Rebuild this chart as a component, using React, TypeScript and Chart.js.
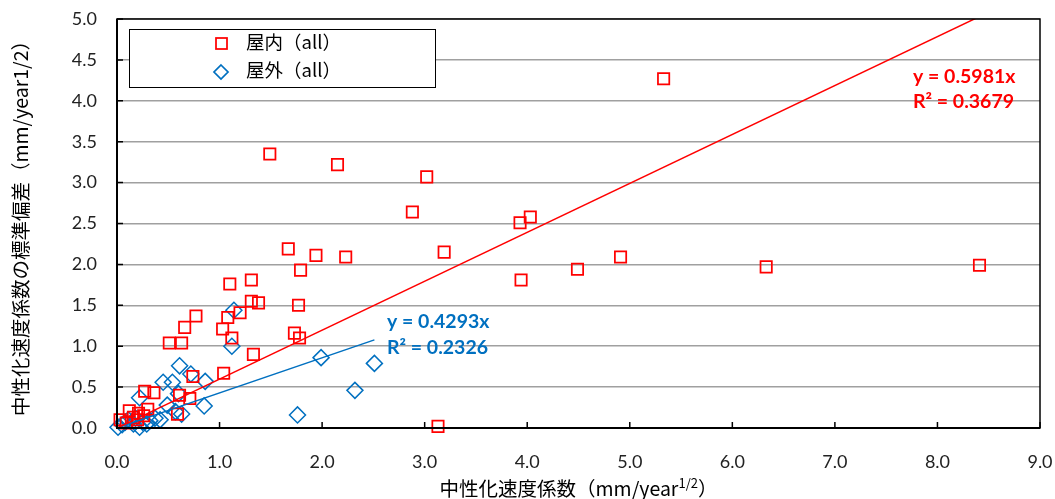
import React, { useEffect, useRef } from 'react';
import { Chart, registerables } from 'chart.js';

Chart.register(...registerables);

// ---- data ----
const indoorLabel = '屋内（all）';
const outdoorLabel = '屋外（all）';

const indoorX = [5.33, 1.49, 2.15, 3.02, 2.88, 4.03, 3.93, 1.67, 3.19, 1.94, 2.23, 4.91, 1.79, 4.49, 6.33, 8.41, 3.94, 1.10, 1.31, 1.38, 1.31, 1.77, 0.77, 1.08, 1.20, 1.12, 1.03, 1.73, 1.78, 0.66, 0.51, 0.63, 1.33, 1.04, 0.74, 0.71, 0.61, 0.27, 0.36, 3.13, 0.12, 0.21, 0.30, 0.03, 0.16, 0.59, 0.09, 0.20, 0.26];
const indoorY = [4.27, 3.35, 3.22, 3.07, 2.64, 2.58, 2.51, 2.19, 2.15, 2.11, 2.09, 2.09, 1.93, 1.94, 1.97, 1.99, 1.81, 1.76, 1.81, 1.53, 1.55, 1.50, 1.37, 1.35, 1.41, 1.10, 1.21, 1.16, 1.10, 1.23, 1.04, 1.04, 0.90, 0.67, 0.63, 0.36, 0.40, 0.45, 0.43, 0.02, 0.21, 0.18, 0.23, 0.10, 0.13, 0.17, 0.06, 0.10, 0.15];

const outdoorX = [1.14, 1.12, 1.99, 2.51, 2.32, 1.76, 0.61, 0.72, 0.86, 0.54, 0.45, 0.22, 0.60, 0.85, 0.49, 0.57, 0.63, 0.37, 0.25, 0.08, 0.01, 0.22, 0.11, 0.18, 0.32, 0.42, 0.16, 0.29, 0.05];
const outdoorY = [1.44, 1.00, 0.86, 0.79, 0.46, 0.16, 0.76, 0.66, 0.57, 0.56, 0.56, 0.37, 0.42, 0.27, 0.28, 0.20, 0.17, 0.12, 0.07, 0.07, 0.01, 0.01, 0.10, 0.12, 0.09, 0.10, 0.05, 0.05, 0.04];

const indoorSlope = 0.5981;
const outdoorSlope = 0.4293;
const indoorEq = ['y = 0.5981x', 'R² = 0.3679'];
const outdoorEq = ['y = 0.4293x', 'R² = 0.2326'];

const xTickValues = [0, 1, 2, 3, 4, 5, 6, 7, 8, 9];
const yTickValues = [0, 0.5, 1, 1.5, 2, 2.5, 3, 3.5, 4, 4.5, 5];

const xTitleMain = '中性化速度係数（mm/year';
const xTitleSup = '1/2';
const xTitleEnd = '）';
const yTitle = '中性化速度係数の標準偏差（mm/year1/2）';

const RED = '#FF0000';
const BLUE = '#0070C0';
const NUM_FONT = 'Lato, "Noto Sans CJK JP", sans-serif';
const JP_FONT = '"Noto Sans CJK JP", sans-serif';

const W = 1055;
const H = 499;

const decorPlugin = {
  id: 'decor',
  beforeDatasetsDraw(chart: any) {
    const { ctx } = chart;
    ctx.save();
    ctx.fillStyle = '#fff';
    ctx.fillRect(129, 29, 306, 58);
    ctx.restore();
  },
  afterDatasetsDraw(chart: any) {
    const { ctx, chartArea: a, scales } = chart;
    const xs = scales.x;
    const ys = scales.y;
    ctx.save();
    // frame
    ctx.strokeStyle = '#000';
    ctx.lineWidth = 1.5;
    ctx.strokeRect(a.left, a.top, a.right - a.left, a.bottom - a.top);
    ctx.lineWidth = 2;
    ctx.beginPath();
    ctx.moveTo(a.left, a.top);
    ctx.lineTo(a.left, a.bottom);
    ctx.lineTo(a.right, a.bottom);
    ctx.stroke();
    // inside ticks
    ctx.lineWidth = 1.5;
    ctx.beginPath();
    xTickValues.forEach((v) => {
      const px = xs.getPixelForValue(v);
      ctx.moveTo(px, a.bottom);
      ctx.lineTo(px, a.bottom - 6);
    });
    yTickValues.forEach((v) => {
      const py = ys.getPixelForValue(v);
      ctx.moveTo(a.left, py);
      ctx.lineTo(a.left + 6, py);
    });
    ctx.stroke();

    // tick labels
    ctx.fillStyle = '#222';
    ctx.font = '18px ' + NUM_FONT;
    ctx.textBaseline = 'middle';
    ctx.textAlign = 'center';
    xTickValues.forEach((v) => {
      ctx.fillText(v.toFixed(1), xs.getPixelForValue(v), 462);
    });
    ctx.textAlign = 'right';
    yTickValues.forEach((v) => {
      ctx.fillText(v.toFixed(1), 97, ys.getPixelForValue(v));
    });

    // legend
    ctx.lineWidth = 1;
    ctx.strokeStyle = '#000';
    ctx.strokeRect(129.5, 29.5, 306, 58);
    ctx.lineWidth = 1.75;
    ctx.strokeStyle = RED;
    ctx.strokeRect(216, 38, 11, 11);
    ctx.strokeStyle = BLUE;
    ctx.beginPath();
    ctx.moveTo(221, 65);
    ctx.lineTo(228, 72);
    ctx.lineTo(221, 79);
    ctx.lineTo(214, 72);
    ctx.closePath();
    ctx.stroke();
    ctx.fillStyle = '#000';
    ctx.font = '18.5px ' + JP_FONT;
    ctx.textAlign = 'left';
    ctx.fillText(indoorLabel, 246, 42);
    ctx.fillText(outdoorLabel, 246, 70);

    // equations
    ctx.font = 'bold 19.5px ' + NUM_FONT;
    ctx.fillStyle = RED;
    ctx.fillText(indoorEq[0], 913, 77);
    ctx.fillText(indoorEq[1], 913, 102);
    ctx.fillStyle = BLUE;
    ctx.fillText(outdoorEq[0], 387, 322);
    ctx.fillText(outdoorEq[1], 387, 348);

    // x title with superscript
    ctx.fillStyle = '#000';
    const big = '19.5px ' + JP_FONT;
    const small = '13px ' + JP_FONT;
    ctx.font = big;
    const wMain = ctx.measureText(xTitleMain).width;
    const wEnd = ctx.measureText(xTitleEnd).width;
    ctx.font = small;
    const wSup = ctx.measureText(xTitleSup).width;
    const total = wMain + wSup + wEnd;
    const x0 = (a.left + a.right) / 2 - total / 2;
    const ty = 489;
    ctx.font = big;
    ctx.fillText(xTitleMain, x0, ty);
    ctx.font = small;
    ctx.fillText(xTitleSup, x0 + wMain, ty - 6);
    ctx.font = big;
    ctx.fillText(xTitleEnd, x0 + wMain + wSup, ty);

    // y title rotated
    ctx.save();
    ctx.translate(21, (a.top + a.bottom) / 2);
    ctx.rotate(-Math.PI / 2);
    ctx.textAlign = 'center';
    ctx.font = big;
    ctx.fillText(yTitle, 0, 0);
    ctx.restore();

    ctx.restore();
  },
};

export default function App() {
  const ref = useRef<HTMLCanvasElement | null>(null);
  useEffect(() => {
    if (!ref.current) return;
    const maxIn = Math.max(...indoorX);
    const maxOut = Math.max(...outdoorX);
    const chart = new Chart(ref.current, {
      type: 'scatter',
      data: {
        datasets: [
          {
            type: 'line',
            label: 'trend-in',
            data: [{ x: 0, y: 0 }, { x: maxIn, y: indoorSlope * maxIn }],
            borderColor: RED,
            borderWidth: 1.5,
            pointRadius: 0,
            fill: false,
            clip: 0,
            order: 1,
          } as any,
          {
            type: 'line',
            label: 'trend-out',
            data: [{ x: 0, y: 0 }, { x: maxOut, y: outdoorSlope * maxOut }],
            borderColor: BLUE,
            borderWidth: 1.5,
            pointRadius: 0,
            fill: false,
            clip: 0,
            order: 1,
          } as any,
          {
            label: indoorLabel,
            data: indoorX.map((x, i) => ({ x, y: indoorY[i] })),
            pointStyle: 'rect',
            pointRadius: 8,
            pointBorderWidth: 1.75,
            borderColor: RED,
            backgroundColor: 'rgba(0,0,0,0)',
            clip: false,
            order: 2,
          } as any,
          {
            label: outdoorLabel,
            data: outdoorX.map((x, i) => ({ x, y: outdoorY[i] })),
            pointStyle: 'rectRot',
            pointRadius: 8,
            pointBorderWidth: 1.5,
            borderColor: BLUE,
            backgroundColor: 'rgba(0,0,0,0)',
            clip: false,
            order: 3,
          } as any,
        ],
      },
      options: {
        responsive: false,
        animation: false,
        devicePixelRatio: 1,
        layout: { padding: { top: 19, right: 15, left: 0, bottom: 0 } },
        plugins: { legend: { display: false }, tooltip: { enabled: false }, title: { display: false } },
        scales: {
          x: {
            type: 'linear',
            min: 0,
            max: 9,
            ticks: { display: false, stepSize: 1 },
            grid: { display: false, drawTicks: false },
            border: { display: false },
            afterFit: (s: any) => { s.height = H - 428; },
          },
          y: {
            type: 'linear',
            min: 0,
            max: 5,
            ticks: { display: false, stepSize: 0.5 },
            grid: { color: '#a0a0a0', lineWidth: 1.5, drawTicks: false },
            border: { display: false },
            afterFit: (s: any) => { s.width = 117; },
          },
        },
      },
      plugins: [decorPlugin],
    });
    return () => chart.destroy();
  }, []);
  return (
    <div style={{ position: 'fixed', left: 0, top: 0, width: W, height: H, background: '#fff' }}>
      <canvas ref={ref} width={W} height={H} style={{ display: 'block', width: W, height: H }} />
    </div>
  );
}
